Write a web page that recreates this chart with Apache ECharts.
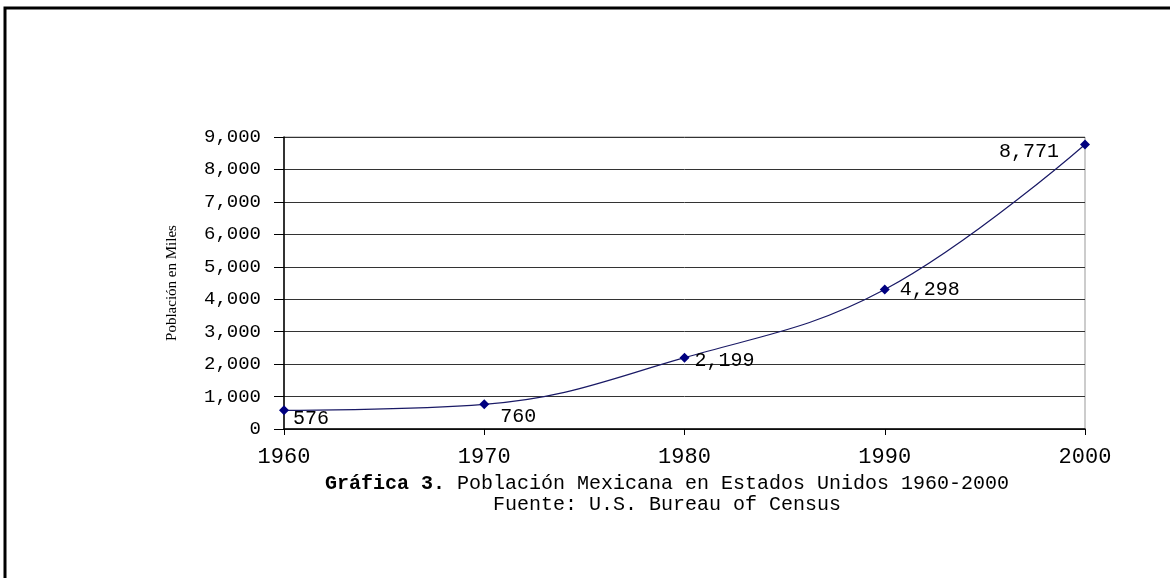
<!DOCTYPE html>
<html lang="es">
<head>
    <meta charset="UTF-8">
    <title>Población Mexicana en Estados Unidos 1960-2000</title>
    <script src="https://cdn.jsdelivr.net/npm/echarts@6/dist/echarts.min.js"></script>
    <style>
        html, body { margin: 0; padding: 0; background: #fff; }
    </style>
</head>
<body>
    <div id="chart" style="width: 1170px; height: 578px;"></div>

    <script>
        var anos = [1960, 1970, 1980, 1990, 2000];
        var poblacion = [576, 760, 2199, 4298, 8771];
        var marcasY = [0, 1000, 2000, 3000, 4000, 5000, 6000, 7000, 8000, 9000];

        var chart = echarts.init(document.getElementById('chart'));

        function formatoMiles(v) {
            return String(v).replace(/\B(?=(\d{3})+(?!\d))/g, ',');
        }

        // donde va cada etiqueta respecto a su punto
        var posEtiquetas = [
            { position: 'right', offset: [-1, 8] },
            { position: 'right', offset: [6, 12] },
            { position: 'right', offset: [0, 3] },
            { position: 'right', offset: [5, 0] },
            { position: 'left', offset: [-16, 7] }
        ];

        var puntos = anos.map(function (a, i) {
            return {
                value: [a, poblacion[i]],
                label: posEtiquetas[i]
            };
        });

        var serif = '"Liberation Serif", "DejaVu Serif", serif';
        var ancha = '"Liberation Mono", "DejaVu Sans Mono", monospace';

        chart.setOption({
            backgroundColor: '#fff',
            animation: false,
            graphic: [{
                type: 'polyline',
                shape: { points: [[5, 578], [5, 8], [1170, 8]] },
                style: { stroke: '#000', lineWidth: 3, fill: null }
            }],
            title: {
                left: 662,
                textAlign: 'center',
                top: 468,
                text: '{b|Gráfica 3.} {n|Población Mexicana en Estados Unidos 1960-2000}\n{n|Fuente: U.S. Bureau of Census}',
                textStyle: {
                    lineHeight: 21,
                    fontFamily: ancha,
                    fontSize: 20,
                    rich: {
                        b: { fontFamily: ancha, fontSize: 20, fontWeight: 'bold', color: '#000', lineHeight: 21 },
                        n: { fontFamily: ancha, fontSize: 20, fontWeight: 'normal', color: '#000', lineHeight: 21 }
                    }
                }
            },
            grid: {
                left: 284,
                right: 85,
                top: 137,
                bottom: 149,
                show: true,
                borderColor: '#999',
                borderWidth: 1
            },
            xAxis: {
                type: 'value',
                min: 1960,
                max: 2000,
                interval: 10,
                axisLine: { onZero: false, lineStyle: { color: '#000', width: 1.5 } },
                axisTick: { show: true, length: 6, lineStyle: { color: '#000' } },
                axisLabel: {
                    fontFamily: ancha, fontSize: 22, color: '#000', margin: 17,
                    formatter: function (v) { return String(v); }
                },
                splitLine: { show: false }
            },
            yAxis: {
                type: 'value',
                min: marcasY[0],
                max: marcasY[marcasY.length - 1],
                interval: 1000,
                name: 'Población en Miles',
                nameLocation: 'middle',
                nameGap: 104,
                nameTextStyle: { fontFamily: serif, fontSize: 15, color: '#000' },
                axisLine: { show: true, lineStyle: { color: '#000', width: 1.5 } },
                axisTick: { show: true, length: 10, lineStyle: { color: '#000' } },
                axisLabel: {
                    fontFamily: ancha, fontSize: 19, color: '#000', margin: 23,
                    formatter: formatoMiles
                },
                splitLine: { show: true, lineStyle: { color: '#333', width: 1 } }
            },
            series: [{
                type: 'line',
                data: puntos,
                smooth: 0.4,
                symbol: 'diamond',
                symbolSize: 10,
                itemStyle: { color: '#000080' },
                lineStyle: { color: '#1a1a66', width: 1.2 },
                label: {
                    show: true,
                    fontFamily: ancha,
                    fontSize: 20,
                    color: '#000',
                    formatter: function (p) { return formatoMiles(p.value[1]); }
                }
            }]
        });
    </script>
</body>
</html>
